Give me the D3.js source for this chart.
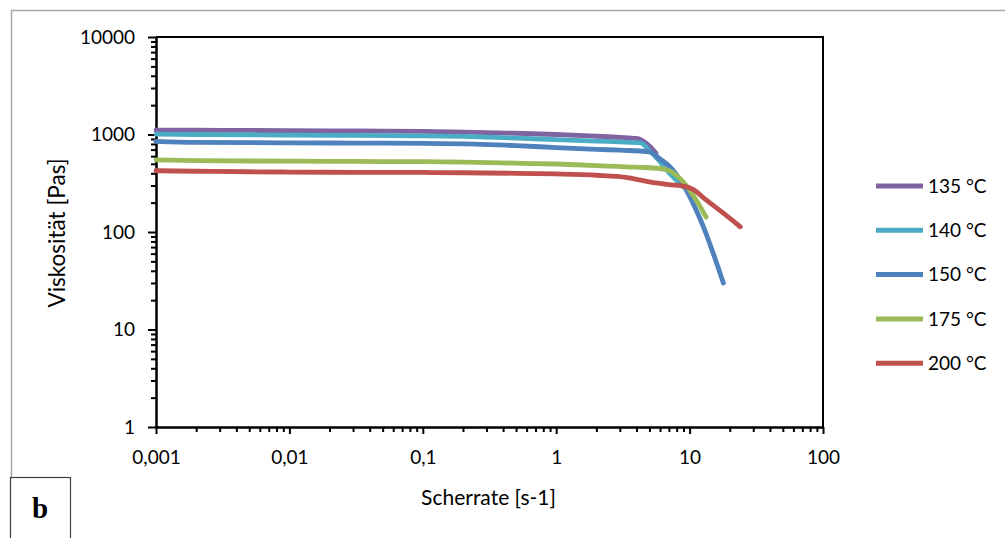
<!DOCTYPE html>
<html>
<head>
<meta charset="utf-8">
<script src="https://cdn.jsdelivr.net/npm/d3@7"></script>
<style>
	body { margin: 0; background: #fff; }
	svg text { font-family: Lato, "Open Sans", sans-serif; fill: #000; }
	.axis path, .axis line { stroke: #000; stroke-width: 2; }
	.curve { fill: none; stroke-width: 4.8; stroke-linecap: round; stroke-linejoin: round; }
</style>
</head>
<body>
<div id="chart"></div>
<script>
// series: [shear rate 1/s, viscosity Pas]
var series135 = [[0.001,1110],[0.002,1105],[0.005,1100],[0.01,1095],[0.02,1090],[0.05,1085],[0.1,1075],[0.2,1060],[0.5,1030],[1,1000],[2,960],[3,935],[4,910],[5,760],[5.6,640]];
var series140 = [[0.001,1010],[0.002,1000],[0.005,990],[0.01,985],[0.02,980],[0.05,975],[0.1,970],[0.2,955],[0.5,920],[1,885],[2,855],[3,840],[4.3,820],[5,680],[5.7,570],[7.1,400],[9,290]];
var series150 = [[0.001,850],[0.002,830],[0.005,825],[0.01,820],[0.02,818],[0.05,815],[0.1,812],[0.2,800],[0.5,770],[1,735],[2,705],[3,690],[5,665],[6,560],[7.1,468],[8.8,318],[10.9,182],[12.7,113],[15,61],[17.9,30]];
var series175 = [[0.001,550],[0.002,540],[0.005,535],[0.01,533],[0.02,530],[0.05,528],[0.1,527],[0.2,520],[0.5,508],[1,498],[2,480],[4,462],[6,448],[7.1,423],[8.9,328],[11.2,213],[13.3,142]];
var series200 = [[0.001,425],[0.002,420],[0.005,415],[0.01,412],[0.02,410],[0.05,409],[0.1,408],[0.2,405],[0.5,400],[1,394],[2,382],[3.4,362],[4.2,342],[5,326],[7,306],[8.8,297],[10.6,274],[13.3,213],[17.9,156],[24,113]];

var seriesNames  = ['135 °C', '140 °C', '150 °C', '175 °C', '200 °C'];
var seriesColors = ['#8064A2', '#4BACC6', '#4F81BD', '#9BBB59', '#C0504D'];
var allSeries    = [series135, series140, series150, series175, series200];

var xTicks      = [0.001, 0.01, 0.1, 1, 10, 100];
var xTickLabels = ['0,001', '0,01', '0,1', '1', '10', '100'];
var yTicks      = [1, 10, 100, 1000, 10000];
var yTickLabels = ['1', '10', '100', '1000', '10000'];

var width = 1005, height = 538;
var margin = {top: 37, left: 156, right: 182, bottom: 111};

var svg = d3.select('#chart').append('svg')
	.attr('width', width)
	.attr('height', height);

// outer frame (top + left) and the "b" label box
svg.append('path')
	.attr('d', 'M11.5,' + (height - 61) + 'V10.5H' + width)
	.attr('fill', 'none')
	.attr('stroke', '#a6a6a6')
	.attr('stroke-width', 1.5);
svg.append('rect')
	.attr('x', 10.5).attr('y', 477.5)
	.attr('width', 60).attr('height', 70)
	.attr('fill', '#fff')
	.attr('stroke', '#404040')
	.attr('stroke-width', 1.2);
svg.append('text')
	.attr('x', 40).attr('y', 518)
	.attr('text-anchor', 'middle')
	.style('font-family', '"Liberation Serif", serif')
	.style('font-weight', 'bold')
	.style('font-size', '29px')
	.text('b');

var plotW = width - margin.left - margin.right;
var plotH = height - margin.top - margin.bottom;

var xScale = d3.scaleLog().domain([0.001, 100]).range([0, plotW]);
var yScale = d3.scaleLog().domain([1, 10000]).range([plotH, 0]);

var vis = svg.append('g')
	.attr('transform', 'translate(' + margin.left + ',' + margin.top + ')');

// minor ticks
function minorTicks(domain) {
	var out = [];
	for (var d = domain[0]; d < domain[1]; d *= 10)
		for (var k = 2; k <= 9; k++) out.push(d * k);
	return out;
}

vis.append('g')
	.attr('class', 'axis')
	.attr('transform', 'translate(0,' + plotH + ')')
	.call(d3.axisBottom(xScale).tickValues(minorTicks([0.001, 100])).tickSize(5).tickSizeOuter(0).tickFormat(''));
vis.append('g')
	.attr('class', 'axis')
	.call(d3.axisLeft(yScale).tickValues(minorTicks([1, 10000])).tickSize(5).tickSizeOuter(0).tickFormat(''));

var xAxis = vis.append('g')
	.attr('class', 'axis')
	.attr('transform', 'translate(0,' + plotH + ')')
	.call(d3.axisBottom(xScale).tickValues(xTicks).tickSize(7).tickSizeOuter(0).tickPadding(17)
		.tickFormat(function(d, i) { return xTickLabels[i]; }));
xAxis.selectAll('text').style('font-size', '19px');

var yAxis = vis.append('g')
	.attr('class', 'axis')
	.call(d3.axisLeft(yScale).tickValues(yTicks).tickSize(8).tickSizeOuter(0).tickPadding(13)
		.tickFormat(function(d, i) { return yTickLabels[i]; }));
yAxis.selectAll('text').style('font-size', '19px');

// top and right border of the plot area
vis.append('path')
	.attr('d', 'M0,0H' + plotW + 'V' + plotH)
	.attr('fill', 'none')
	.attr('stroke', '#000')
	.attr('stroke-width', 2);

var line = d3.line()
	.curve(d3.curveMonotoneX)
	.x(function(d) { return xScale(d[0]); })
	.y(function(d) { return yScale(d[1]); });

vis.append('g').selectAll('path')
	.data(allSeries)
	.enter().append('path')
	.attr('class', 'curve')
	.attr('d', line)
	.attr('stroke', function(d, i) { return seriesColors[i]; });

// axis titles
svg.append('text')
	.attr('x', margin.left + plotW / 2 - 1)
	.attr('y', 505)
	.attr('text-anchor', 'middle')
	.style('font-size', '21px')
	.text('Scherrate [s-1]');
svg.append('text')
	.attr('transform', 'translate(65,233) rotate(-90)')
	.attr('text-anchor', 'middle')
	.style('font-size', '22.5px')
	.text('Viskosität [Pas]');

// legend
var legend = svg.append('g').selectAll('g')
	.data(seriesNames)
	.enter().append('g')
	.attr('transform', function(d, i) { return 'translate(876,' + (186 + i * 44.3) + ')'; });
legend.append('line')
	.attr('x2', 47)
	.attr('stroke', function(d, i) { return seriesColors[i]; })
	.attr('stroke-width', 5);
legend.append('text')
	.attr('x', 52)
	.attr('dy', '0.35em')
	.style('font-size', '19px')
	.text(function(d) { return d; });
</script>
</body>
</html>
